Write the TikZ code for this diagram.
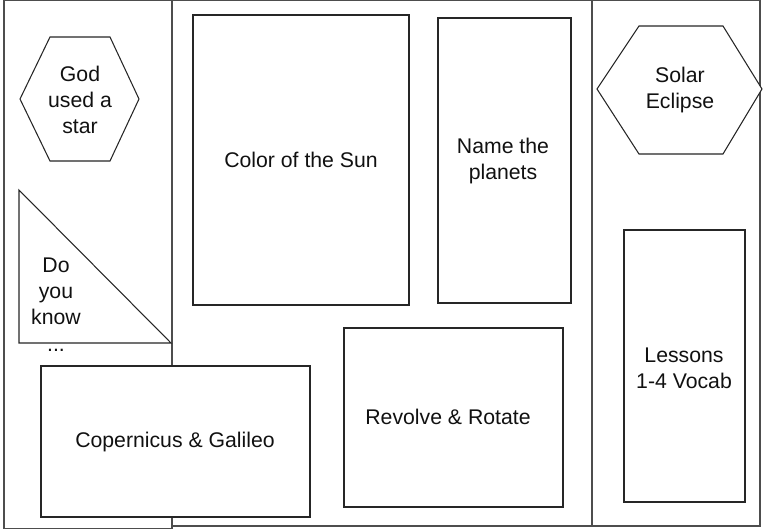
\documentclass[tikz,border=0pt]{standalone}
\usepackage{fontspec}
\setmainfont{Liberation Sans}
\usepackage{tikz}
\usetikzlibrary{calc,positioning}
\usepackage{xcolor}
\definecolor{ink}{HTML}{111111}
\definecolor{edge}{HTML}{262626}
\definecolor{fold}{HTML}{4D4D4D}

\begin{document}
\begin{tikzpicture}[x=0.025cm,y=-0.025cm,line cap=rect,
    panel/.style={draw=edge,line width=0.75pt,fill=white},
    foldline/.style={draw=fold,line width=0.95pt},
    lbl/.style={ink,font=\fontsize{15.1}{18.6}\selectfont,align=center}]
  \useasboundingbox (0,0) rectangle (764,529);
  % pliegues del folleto
  \draw[foldline] (4,0) rectangle (172,528.5);
  \draw[foldline] (172,0) rectangle (760,526);
  \draw[foldline] (592,0) -- (592,526);
  % columna izquierda
  \begin{scope}
    \draw[panel] (20,99) -- (50,37) -- (110,37) -- (139,99)
                 -- (110,161) -- (50,161) -- cycle;
    \node[lbl] (god) at (80,100) {God\\used a\\star};
    \draw[panel] (19,190) -- (19,343) -- (171,343) -- cycle;
    \node[lbl,anchor=north] (know) at (56,253) {Do\\you\\know\\...};
  \end{scope}
  % columna central
  \begin{scope}
    \draw[panel] (193,15) rectangle (409,305);
    \node[lbl] (sun) at (301,160) {Color of the Sun};
    \draw[panel] (438,18) rectangle (571,303);
    \node[lbl] (planets) at (503,161) {Name the\\planets};
    \draw[panel] (344,328) rectangle (563,507);
    \node[lbl] (revolve) at (448,417) {Revolve \& Rotate};
    \draw[panel] (41,366) rectangle (310,517);
    \node[lbl] (copernicus) at (175,442) {Copernicus \& Galileo};
  \end{scope}
  % columna derecha
  \begin{scope}
    \draw[panel] (597,89) -- (639,26) -- (723,26) -- (762,89)
                 -- (723,154) -- (639,154) -- cycle;
    \node[lbl] (eclipse) at (680,90) {Solar\\Eclipse};
    \draw[panel] (624,230) rectangle (745,502);
    \node[lbl] (vocab) at (684,368) {Lessons\\1-4 Vocab};
  \end{scope}
\end{tikzpicture}
\end{document}
